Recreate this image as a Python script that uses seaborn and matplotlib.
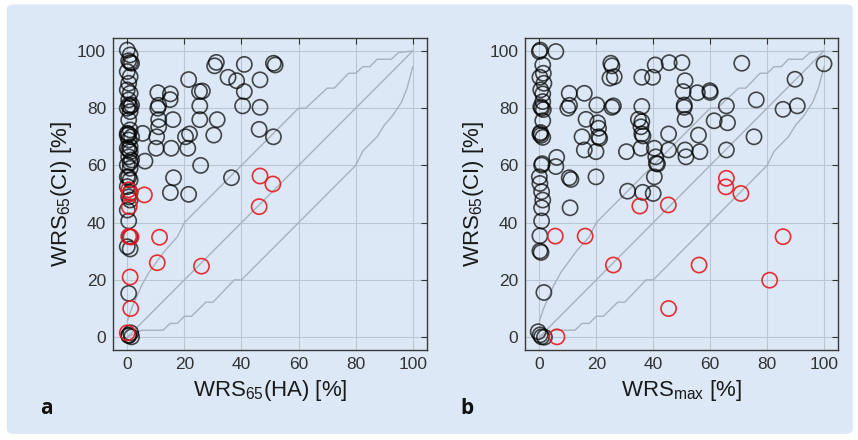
import matplotlib
matplotlib.use("Agg")
import matplotlib.pyplot as plt
from matplotlib.patches import FancyBboxPatch
import seaborn as sns

# ---- data ----
# panel a: WRS65(HA) vs WRS65(CI)
a_black_x = [0, 1, 0.5, 1.5, 0, 1, 0.5, 0, 1, 0.5, 1.5, 0, 1, 0.5, 1, 0, 1.5, 0.5, 0, 1, 0.5, 1.5, 0, 1, 0.5, 1,
             0, 0.5, 1, 0, 0.5, 1, 0, 1, 0.5, 0.5, 1.5,
             1, 0.5, 1, 0.5, 0, 1, 0.5, 1, 0, 1, 1.2, 0.5,
             5.4, 6.2, 10.7, 15.1, 15, 11, 10.7, 11, 16, 11, 10.3, 10.1, 15.4, 21.2, 20.4, 21.8, 21.5,
             25.3, 26.3, 25.4, 25.4, 31.5, 30.3, 25.7, 31.2, 30.6, 35.3, 38.3, 41, 41, 40.4, 46.5, 46.5,
             51.2, 51.8, 46.2, 51.2, 36.5, 16.2, 15.1, 21.5]
a_black_y = [100.3, 98.6, 96.6, 95.7, 92.8, 91, 88.7, 86.4, 85.2, 82.9, 81.1, 80, 78.8, 75.9, 72.4, 71.2, 70, 68.9,
             66, 64.8, 63, 61.9, 60.1, 59, 56, 54.9, 52.6, 49, 47.9, 44.4, 40.6, 35.1, 31.6, 30.8, 15.3, 0.7, 0.1,
             96, 81, 80.5, 71, 70.5, 66.5, 65.5, 61, 56, 50.5, 1.5, 0.5,
             71.2, 61.5, 85.4, 85, 83, 81, 80, 76, 76, 73.5, 70, 66, 66, 66, 70, 71, 90,
             85.8, 86, 80.8, 76, 76, 70.6, 60, 96, 94.8, 90.8, 89.6, 95.3, 85.8, 80.8, 89.9, 80.3,
             95.7, 95.1, 72.6, 70, 55.7, 55.7, 50.5, 49.9]
a_red_x = [0.5, 0.8, 0.7, 0.5, 1.3, 1, 1.2, 0, 6, 11.3, 10.5, 26, 46.5, 51, 46.2]
a_red_y = [51.5, 50, 45.6, 35.2, 35, 21, 10, 1.5, 49.7, 34.9, 26, 24.8, 56.3, 53.5, 45.6]

# panel b: WRSmax vs WRS65(CI)
b_black_x = [0, 0.3, 1.2, 1.4, 0.2, 1.6, 0.5, 1.2, 1.2, 0.8, 1.4, 1.2, 0.2, 1.2, 0.6, 0.8, 0, 0.2, 0.8, 1.2,
             0.8, 0.8, 0.2, 0.2, 0.6, 1.6, -0.4, 0.8, 1.8, 0.3, 0.5, 0.4, 1,
             5.8, 6.1, 5.8, 10.5, 10, 10.6, 10.5, 11.1, 10.8, 15.8, 19.9, 20.2, 25.5, 26, 25.1, 25.5, 24.8, 26.3,
             16.4, 20.5, 20.8, 15, 20.8, 21.2, 15.8, 19.9, 30.6, 31, 36, 34.8, 35.7, 36, 36.4, 35.7, 40.4, 40.9,
             41.1, 40.4, 36, 39.8, 40.7, 45.6, 50.1, 45.4, 45.4, 71.1, 51.2, 50.5, 55.5, 59.9, 60, 76.2, 65.7,
             50.9, 50.9, 51.2, 61.4, 66.1, 36, 55.9, 75.4, 51.2, 51.5, 56.4, 65.7, 41.5, 40, 36.3,
             100, 89.8, 85.6, 90.6]
b_black_y = [99.8, 100.3, 95.1, 92.2, 90.8, 88.7, 86.4, 85, 82.3, 80, 79.5, 75.6, 71, 69.8, 70.5, 60.1, 56, 53.7,
             50.8, 47.9, 45.2, 40.6, 35.4, 30.1, 29.6, 15.6, 1.9, 0.1, 0, 0.8, 80.5, 71.5, 60.6,
             99.8, 62.8, 59.6, 85.2, 80, 81, 55.7, 55.1, 45.2, 85.2, 56, 81.1, 80.3, 80.8, 95.7, 94.8, 90.5, 91,
             76.1, 74.9, 73, 70, 70, 69.5, 65.4, 64.8, 64.8, 51, 80.6, 76.1, 73.5, 71, 70.3, 66, 66, 63,
             60.7, 56, 90.8, 90.8, 95.1, 95.9, 95.9, 71, 65.4, 95.7, 89.6, 85.8, 85.4, 86.1, 85.5, 82.9, 80.8,
             81.1, 80.3, 76.1, 75.6, 74.9, 75.3, 70.6, 70, 65.4, 63, 64.8, 65.4, 60.5, 50.2, 50.6,
             95.5, 90.1, 79.6, 80.8]
b_red_x = [5.6, 16.1, 26, 45.4, 6.2, 35.3, 45.3, 65.7, 65.5, 70.8, 85.6, 56.1, 80.9]
b_red_y = [35.3, 35.3, 25.2, 10, 0.1, 45.8, 46.2, 55.5, 52.5, 50.2, 35.1, 25.2, 19.9]

# critical-difference range (same in both panels)
low_x = [0, 5, 12.5, 15, 17.5, 20, 22.5, 27.5, 30, 37.5, 40, 80, 82.5, 87.5, 90, 93, 96, 98, 100]
low_y = [0, 2.4, 2.4, 4.8, 4.8, 7.3, 7.3, 12.2, 12.2, 20, 20, 60, 65, 70, 74, 77.5, 82, 87, 94.5]
up_x = [0, 1.5, 5, 7.5, 13, 17.5, 20, 60, 62.5, 70, 72.5, 77.5, 80, 82.5, 85, 87.5, 92.5, 95, 100]
up_y = [5.5, 10, 18, 22.5, 30, 35, 40, 80, 80, 87, 87, 92.2, 92.2, 94.5, 94.5, 97.1, 97.1, 99.4, 100]
diag = [0, 100]

ticks = [0, 20, 40, 60, 80, 100]
xlabels = ['WRS$_{65}$(HA) [%]', 'WRS$_{max}$ [%]']
ylabel = 'WRS$_{65}$(CI) [%]'
panel_tags = ['a', 'b']

# ---- style ----
bg = '#dce8f5'
sns.set_style('white')
plt.rcParams['font.family'] = ['Liberation Sans Narrow', 'Liberation Sans', 'DejaVu Sans']
plt.rcParams['mathtext.default'] = 'regular'

fig = plt.figure(figsize=(8.58, 4.4), dpi=100, facecolor='white')
fig.patches.append(FancyBboxPatch((0.008, 0.014), 0.986, 0.976, boxstyle='round,pad=0,rounding_size=0.01',
                                  transform=fig.transFigure, facecolor=bg, edgecolor='none', zorder=-10))

axes = [fig.add_axes([0.1317, 0.2045, 0.366, 0.709]),
        fig.add_axes([0.612, 0.2045, 0.365, 0.709])]

panels = [(a_black_x, a_black_y, a_red_x, a_red_y), (b_black_x, b_black_y, b_red_x, b_red_y)]

for i, ax in enumerate(axes):
    bx, by, rx, ry = panels[i]
    ax.set_facecolor(bg)
    ax.grid(True, color='#bcc6d2', lw=0.8)
    ax.set_axisbelow(True)

    # reference lines
    sns.lineplot(x=diag, y=diag, ax=ax, color='#a9b1bd', lw=1, sort=False)
    sns.lineplot(x=low_x, y=low_y, ax=ax, color='#a9b1bd', lw=1, sort=False)
    sns.lineplot(x=up_x, y=up_y, ax=ax, color='#a9b1bd', lw=1, sort=False)

    sns.scatterplot(x=bx, y=by, ax=ax, marker='o', s=120, facecolor='none',
                    edgecolor=(0, 0, 0, 0.7), linewidth=1.2, zorder=3)
    sns.scatterplot(x=rx, y=ry, ax=ax, marker='o', s=120, facecolor='none',
                    edgecolor=(0.9, 0.1, 0.12, 0.9), linewidth=1.2, zorder=4)

    ax.set_xlim(-5, 105)
    ax.set_ylim(-4.5, 104.5)
    ax.set_xticks(ticks)
    ax.set_yticks(ticks)
    ax.tick_params(direction='in', length=4, width=0.8, top=True, right=True,
                   labelsize=12.5, colors='#333333', pad=5)
    for sp in ax.spines.values():
        sp.set_color('#3a3a3a')
        sp.set_linewidth(1)
    ax.set_xlabel(xlabels[i], fontsize=16, color='#1a1a1a', labelpad=4)
    ax.set_ylabel(ylabel, fontsize=16, color='#1a1a1a', labelpad=2)

fig.text(0.047, 0.06, panel_tags[0], fontsize=15, fontweight='bold', family='Open Sans', color='#111111')
fig.text(0.537, 0.06, panel_tags[1], fontsize=15, fontweight='bold', family='Open Sans', color='#111111')

fig.savefig('out.png', dpi=100, facecolor='white')
